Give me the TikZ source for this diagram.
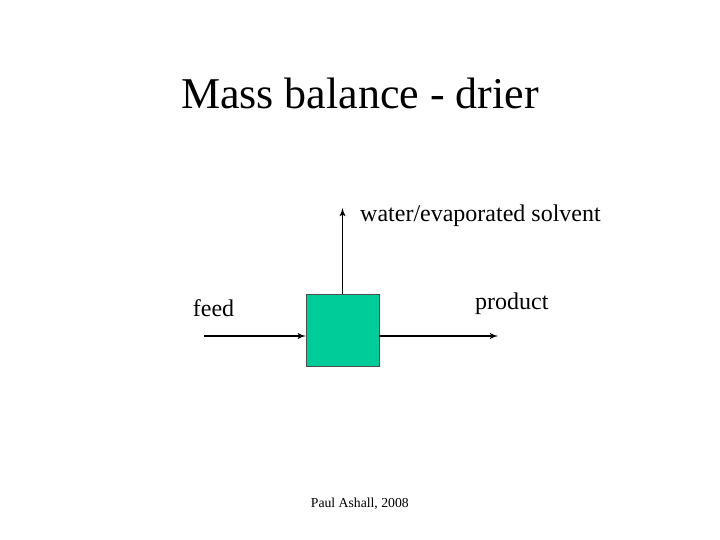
\documentclass[tikz,border=0pt]{standalone}
\usepackage{fontspec}
\setmainfont{Liberation Serif}
\usetikzlibrary{shapes,arrows}
\tikzstyle{unit} = [rectangle, draw=black!70, fill={rgb,255:red,0;green,204;blue,153},
    minimum width=73pt, minimum height=72pt, inner sep=0pt]
\tikzstyle{stream} = [draw, line width=1.8pt, -latex']
\tikzstyle{mylabel} = [anchor=base west, inner sep=0pt, font=\fontsize{24}{28}\selectfont]

\begin{document}
\begin{tikzpicture}[x=1pt, y=-1pt]
    \useasboundingbox (0,0) rectangle (720,540);
    % Place nodes
    \node [anchor=base, inner sep=0pt, font=\fontsize{44}{50}\selectfont] (title) at (360,108.7) {Mass balance - drier};
    \node [unit] (drier) at (342.5,330) {};
    \node [mylabel] (feed) at (192.7,316.7) {feed};
    \node [mylabel] (product) at (475,309) {product};
    \node [mylabel] (water) at (360,221.7) {water/evaporated solvent};
    \node [anchor=base west, inner sep=0pt, font=\fontsize{13.7}{16}\selectfont] (credit) at (310.7,507.7) {Paul Ashall, 2008};
    \coordinate (feedin) at (204,336);
    \coordinate (prodout) at (498,336);
    \coordinate (vapout) at (342.5,208);
    % Draw edges
    \path [stream] (feedin) -- (feedin -| drier.west);
    \path [stream] (drier.east |- feedin) -- (prodout);
    \path [stream] (drier.north) -- (vapout);
\end{tikzpicture}
\end{document}
